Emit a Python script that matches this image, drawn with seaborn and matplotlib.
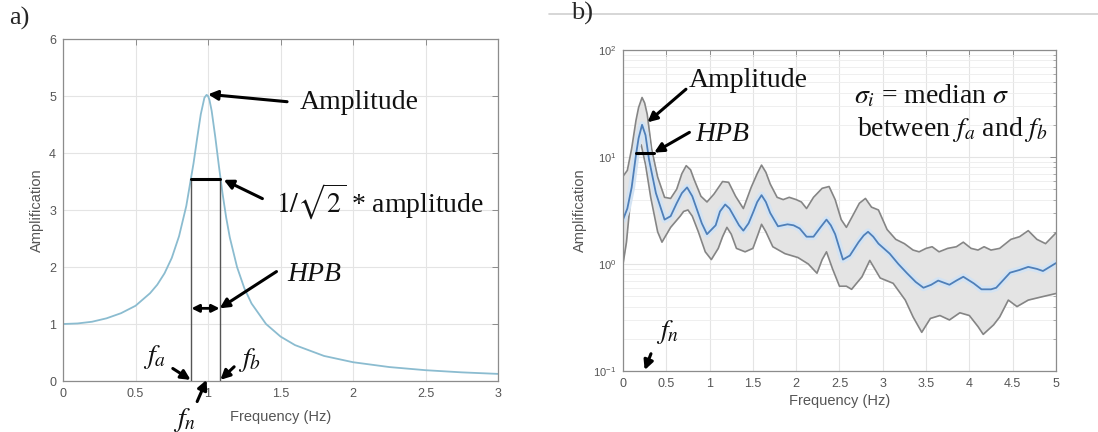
import numpy as np
import pandas as pd
import matplotlib
matplotlib.use('Agg')
import matplotlib.pyplot as plt
import matplotlib.ticker as mticker
from matplotlib.lines import Line2D
import seaborn as sns

# ---------------------------------------------------------
# data
# ---------------------------------------------------------
# a) single resonance curve
freq_a = [0.0, 0.1, 0.2, 0.3, 0.4, 0.5, 0.6, 0.65, 0.7, 0.75, 0.8, 0.85, 0.9, 0.925,
          0.95, 0.975, 0.99, 1.0, 1.01, 1.025, 1.05, 1.075, 1.1, 1.125, 1.15, 1.2, 1.25,
          1.3, 1.4, 1.5, 1.6, 1.8, 2.0, 2.25, 2.5, 2.75, 3.0]
amp_a = [1.0, 1.01, 1.04, 1.10, 1.19, 1.32, 1.54, 1.69, 1.89, 2.16, 2.54, 3.07, 3.82, 4.26,
         4.68, 4.97, 5.02, 5.0, 4.93, 4.74, 4.28, 3.77, 3.29, 2.87, 2.52, 2.0, 1.63,
         1.36, 1.0, 0.78, 0.63, 0.44, 0.33, 0.245, 0.19, 0.152, 0.125]
f_a_line = 0.885
f_b_line = 1.08
hpb_level = 3.54

# b) median and +/- sigma band
freq_med = [0.00, 0.05, 0.10, 0.15, 0.18, 0.22, 0.26, 0.30, 0.38, 0.48, 0.55, 0.62, 0.68,
            0.74, 0.80, 0.85, 0.91, 0.97, 1.07, 1.12, 1.18, 1.23, 1.28, 1.34, 1.39, 1.45,
            1.50, 1.55, 1.60, 1.65, 1.70, 1.79, 1.90, 1.97, 2.04, 2.12, 2.20, 2.28, 2.35,
            2.40, 2.45, 2.54, 2.62, 2.72, 2.78, 2.83, 2.89, 2.95, 3.08, 3.18, 3.28, 3.38,
            3.47, 3.56, 3.64, 3.77, 3.85, 3.93, 4.05, 4.14, 4.25, 4.31, 4.40, 4.47, 4.58,
            4.68, 4.78, 4.85, 5.00]
amp_med = [2.6, 3.3, 5.2, 10.5, 15.0, 20.0, 16.0, 9.5, 4.6, 2.6, 2.8, 3.7, 4.6,
           5.2, 4.3, 3.3, 2.4, 1.9, 2.3, 3.1, 3.6, 3.3, 2.8, 2.3, 2.05, 2.4,
           3.0, 3.8, 4.4, 3.8, 3.0, 2.25, 2.35, 2.3, 2.15, 1.8, 1.8, 2.2, 2.6,
           2.3, 1.9, 1.1, 1.2, 1.6, 1.85, 2.0, 1.8, 1.55, 1.25, 1.0, 0.82, 0.68,
           0.6, 0.64, 0.7, 0.64, 0.7, 0.76, 0.66, 0.58, 0.58, 0.6, 0.72, 0.83, 0.88,
           0.94, 0.9, 0.86, 1.02]

freq_up = [0.00, 0.05, 0.10, 0.15, 0.18, 0.22, 0.25, 0.28, 0.33, 0.40, 0.48, 0.55, 0.62,
           0.68, 0.73, 0.78, 0.82, 0.90, 0.97, 1.05, 1.15, 1.22, 1.30, 1.39, 1.48, 1.55,
           1.60, 1.65, 1.70, 1.78, 1.85, 1.92, 2.00, 2.06, 2.12, 2.20, 2.30, 2.38, 2.45,
           2.52, 2.58, 2.66, 2.73, 2.80, 2.87, 2.95, 3.05, 3.15, 3.25, 3.35, 3.42, 3.50,
           3.57, 3.65, 3.75, 3.85, 3.93, 4.02, 4.10, 4.17, 4.25, 4.35, 4.48, 4.58, 4.68,
           4.78, 4.88, 5.00]
amp_up = [6.6, 7.5, 12.0, 22.0, 29.0, 36.0, 32.0, 25.0, 12.0, 6.5, 4.2, 4.1, 5.0,
          7.0, 8.3, 7.6, 6.2, 4.3, 3.8, 4.5, 5.9, 5.8, 4.3, 3.3, 5.2, 7.0,
          8.4, 7.2, 5.6, 4.2, 4.0, 4.2, 4.0, 3.8, 3.3, 4.2, 5.1, 5.3, 4.0,
          2.6, 2.2, 2.9, 3.7, 4.1, 3.4, 3.2, 2.1, 1.7, 1.55, 1.35, 1.3, 1.4,
          1.45, 1.3, 1.4, 1.45, 1.6, 1.4, 1.35, 1.45, 1.35, 1.4, 1.7, 1.8, 2.05,
          1.7, 1.55, 1.95]

freq_lo = [0.00, 0.04, 0.08, 0.12, 0.17, 0.21, 0.26, 0.32, 0.40, 0.45, 0.55, 0.66, 0.70,
           0.75, 0.80, 0.87, 0.95, 1.02, 1.10, 1.15, 1.20, 1.25, 1.31, 1.41, 1.50, 1.56,
           1.60, 1.65, 1.73, 1.87, 2.02, 2.14, 2.24, 2.30, 2.35, 2.42, 2.50, 2.58, 2.64,
           2.76, 2.85, 2.97, 3.12, 3.26, 3.35, 3.45, 3.55, 3.66, 3.77, 3.89, 4.00, 4.10,
           4.16, 4.28, 4.35, 4.45, 4.55, 4.68, 4.82, 5.00]
amp_lo = [1.0, 1.6, 3.5, 7.5, 12.0, 13.0, 8.5, 4.2, 2.0, 1.6, 2.2, 2.8, 3.1,
          3.2, 2.8, 2.0, 1.3, 1.1, 1.4, 1.8, 2.2, 1.9, 1.4, 1.3, 1.4, 1.9,
          2.35, 2.0, 1.45, 1.25, 1.15, 1.0, 0.82, 1.1, 1.3, 0.9, 0.62, 0.62, 0.58,
          0.76, 1.08, 0.74, 0.66, 0.46, 0.32, 0.23, 0.31, 0.33, 0.30, 0.35, 0.33, 0.26,
          0.22, 0.27, 0.32, 0.46, 0.40, 0.46, 0.49, 0.53]

# ---------------------------------------------------------
# style
# ---------------------------------------------------------
sns.set_style('white')
plt.rcParams['font.family'] = ['Liberation Sans', 'DejaVu Sans']
plt.rcParams['mathtext.fontset'] = 'stix'

TXT = dict(family='Liberation Serif', fontsize=20, color='#111111')
ARROW = dict(arrowstyle='-|>', color='k', lw=2.2, mutation_scale=14, shrinkA=0, shrinkB=0)
GRIDC = '#e4e4e4'
EDGEC = '#8c8c8c'
TICKC = '#555555'


def style_axes(ax, xpad=3):
    for s in ax.spines.values():
        s.set_color(EDGEC)
        s.set_linewidth(0.9)
        s.set_visible(True)
    ax.tick_params(direction='in', length=4, width=0.7, color=EDGEC,
                   labelcolor=TICKC, labelsize=9, top=True, right=True, pad=5)
    ax.tick_params(which='minor', direction='in', length=2, width=0.5, color=EDGEC,
                   top=True, right=True)
    ax.set_xlabel('Frequency (Hz)', fontsize=10.5, color=TICKC, labelpad=xpad)
    ax.set_ylabel('Amplification', fontsize=10.5, color=TICKC, labelpad=4)
    ax.set_axisbelow(True)


fig = plt.figure(figsize=(10.98, 4.32), dpi=100)
ax1 = fig.add_axes([0.0574, 0.118, 0.3962, 0.7917])
ax2 = fig.add_axes([0.5674, 0.1412, 0.3943, 0.743])

# ---------------------------------------------------------
# a)
# ---------------------------------------------------------
df_a = pd.DataFrame({'freq': freq_a, 'amp': amp_a})
sns.lineplot(data=df_a, x='freq', y='amp', ax=ax1, color='#8bbcd0', lw=1.3)
ax1.grid(True, color=GRIDC, lw=0.8)
ax1.set_xlim(0, 3)
ax1.set_ylim(0, 6)
ax1.xaxis.set_major_locator(mticker.MultipleLocator(0.5))
ax1.xaxis.set_major_formatter(mticker.FormatStrFormatter('%g'))
ax1.yaxis.set_major_locator(mticker.MultipleLocator(1))
style_axes(ax1, xpad=7)

ax1.plot([f_a_line, f_a_line], [0, hpb_level], color='#555555', lw=1.0)
ax1.plot([f_b_line, f_b_line], [0, hpb_level], color='#555555', lw=1.0)
ax1.plot([f_a_line, f_b_line], [hpb_level, hpb_level], color='k', lw=2.2)

ax1.text(1.63, 4.88, 'Amplitude', va='center', ha='left', **TXT)
ax1.annotate('', xy=(1.0, 5.03), xytext=(1.545, 4.90), arrowprops=ARROW)
ax1.text(1.47, 3.15, r'$1/\sqrt{2}$ * amplitude', va='center', ha='left', **TXT)
ax1.annotate('', xy=(1.108, 3.53), xytext=(1.375, 3.20), arrowprops=ARROW)
ax1.text(1.545, 1.86, 'HPB', va='center', ha='left', style='italic', **TXT)
ax1.annotate('', xy=(f_b_line, 1.275), xytext=(1.472, 1.92), arrowprops=ARROW)
ax1.annotate('', xy=(f_b_line, 1.275), xytext=(f_a_line, 1.275),
             arrowprops=dict(arrowstyle='<|-|>', color='k', lw=2.0, mutation_scale=11,
                             shrinkA=0, shrinkB=0))
ax1.text(0.55, 0.43, r'$f_a$', va='center', ha='left', **TXT)
ax1.annotate('', xy=(f_a_line - 0.005, 0.02), xytext=(0.757, 0.22), arrowprops=ARROW)
ax1.text(1.205, 0.37, r'$f_b$', va='center', ha='left', **TXT)
ax1.annotate('', xy=(f_b_line + 0.005, 0.02), xytext=(1.18, 0.25), arrowprops=ARROW)
ax1.text(0.84, -0.68, r'$f_n$', va='center', ha='center', clip_on=False, **TXT)
ax1.annotate('', xy=(0.99, 0.02), xytext=(0.925, -0.36), arrowprops=ARROW,
             annotation_clip=False)

# ---------------------------------------------------------
# b)
# ---------------------------------------------------------
grid_f = np.union1d(freq_up, freq_lo)
ax2.fill_between(grid_f, np.interp(grid_f, freq_lo, amp_lo), np.interp(grid_f, freq_up, amp_up),
                 color='#e4e4e4', lw=0)
df_b = pd.concat([
    pd.DataFrame({'freq': freq_up, 'amp': amp_up, 'curve': 'upper'}),
    pd.DataFrame({'freq': freq_lo, 'amp': amp_lo, 'curve': 'lower'}),
])
sns.lineplot(data=df_b, x='freq', y='amp', units='curve', estimator=None, ax=ax2,
             color='#858585', lw=1.2, sort=False)
df_med = pd.DataFrame({'freq': freq_med, 'amp': amp_med})
sns.lineplot(data=df_med, x='freq', y='amp', ax=ax2, color='#d3e3f3', lw=5)
sns.lineplot(data=df_med, x='freq', y='amp', ax=ax2, color='#4f7fb8', lw=1.3)

ax2.set_yscale('log')
ax2.set_xlim(0, 5)
ax2.set_ylim(0.1, 100)
ax2.xaxis.set_major_locator(mticker.MultipleLocator(0.5))
ax2.xaxis.set_major_formatter(mticker.FormatStrFormatter('%g'))
ax2.yaxis.set_major_locator(mticker.LogLocator(base=10, numticks=5))
ax2.yaxis.set_minor_locator(mticker.LogLocator(base=10, subs=np.arange(2, 10), numticks=20))
ax2.yaxis.set_minor_formatter(mticker.NullFormatter())
ax2.grid(True, which='major', color=GRIDC, lw=0.8)
ax2.grid(True, which='minor', axis='y', color='#ededed', lw=0.6)
style_axes(ax2)
ax2.tick_params(axis='y', labelsize=8)

ax2.plot([0.15, 0.36], [10.8, 10.8], color='k', lw=2.2)
ax2.text(0.76, 52, 'Amplitude', va='center', ha='left', **TXT)
ax2.annotate('', xy=(0.283, 21.1), xytext=(0.727, 43), arrowprops=ARROW)
ax2.text(0.83, 16.4, 'HPB', va='center', ha='left', style='italic', **TXT)
ax2.annotate('', xy=(0.36, 11.0), xytext=(0.767, 17), arrowprops=ARROW)
ax2.text(2.67, 37.5, r'$\sigma_i$ = median $\sigma$', va='center', ha='left', **TXT)
ax2.text(2.70, 18.2, r'between $f_a$ and $f_b$', va='center', ha='left', **TXT)
ax2.text(0.38, 0.23, r'$f_n$', va='center', ha='left', **TXT)
ax2.annotate('', xy=(0.25, 0.102), xytext=(0.323, 0.145), arrowprops=ARROW,
             annotation_clip=False)

# panel letters and the thin rule at the top of b)
fig.text(0.008, 0.985, 'a)', va='top', ha='left', family='Liberation Serif', fontsize=19)
fig.text(0.52, 0.995, 'b)', va='top', ha='left', family='Liberation Serif', fontsize=19)
fig.add_artist(Line2D([0.5, 1.0], [0.9676, 0.9676], color='#cfcfcf', lw=1.2,
                      transform=fig.transFigure))

fig.savefig('out.png', dpi=100)
